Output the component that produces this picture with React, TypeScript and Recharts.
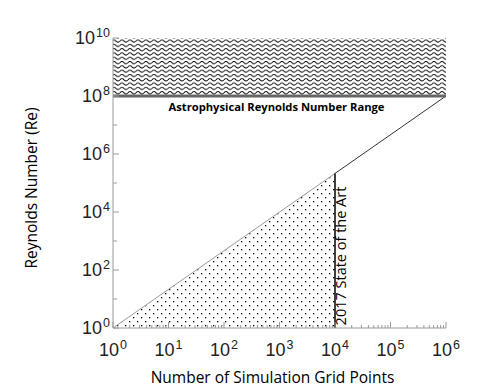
import {
  Area,
  ComposedChart,
  Label,
  Line,
  ReferenceArea,
  ReferenceLine,
  XAxis,
  YAxis,
} from "recharts";

// log10 of grid points / Reynolds number
const gridPoints = [0, 4, 6];
const reLower = [0, 5.33, null];
const reUpper = [null, 5.33, 8];
const stateOfArt = [0, 5.33, null];

const astroRange = [8, 10];
const stateOfArtX = 4;
const stateOfArtRe = 5.33;

const xMajor = [0, 1, 2, 3, 4, 5, 6];
const yMajor = [0, 2, 4, 6, 8, 10];
const yMinor = [1, 3, 5, 7, 9];
const minorSteps = [2, 3, 4, 5, 6, 7, 8, 9];

const xTicks = [
  ...xMajor,
  ...xMajor.slice(0, -1).flatMap((d) => minorSteps.map((k) => d + Math.log10(k))),
];
const yTicks = [...yMajor, ...yMinor];

const data = gridPoints.map((x, i) => ({
  x,
  lower: reLower[i],
  upper: reUpper[i],
  art: stateOfArt[i],
}));

const axisGrey = "#9a9a9a";
const tickFont = "'Liberation Sans', Arial, sans-serif";
const titleFont = "'Open Sans', sans-serif";

const isMajor = (v: number) => Math.abs(v - Math.round(v)) < 1e-6;

function PowerLabel({ x, y, exp, anchor }: { x: number; y: number; exp: number; anchor: string }) {
  return (
    <text x={x} y={y} textAnchor={anchor} fontFamily={tickFont} fontSize={18} fill="#222">
      <tspan>10</tspan>
      <tspan fontSize={12.5} dx={1} dy={-7}>
        {exp}
      </tspan>
    </text>
  );
}

function BottomTick(props: any) {
  const { x, y, payload } = props;
  const v = payload.value;
  const major = isMajor(v);
  return (
    <g>
      <line x1={x} x2={x} y1={y} y2={y - (major ? 6 : 3)} stroke={axisGrey} />
      {major && <PowerLabel x={x} y={y + 28} exp={Math.round(v)} anchor="middle" />}
    </g>
  );
}

function TopTick(props: any) {
  const { x, y, payload } = props;
  const major = isMajor(payload.value);
  return <line x1={x} x2={x} y1={y} y2={y + (major ? 6 : 3)} stroke={axisGrey} />;
}

function LeftTick(props: any) {
  const { x, y, payload } = props;
  const v = payload.value;
  const major = v % 2 === 0;
  return (
    <g>
      <line x1={x} x2={x + (major ? 6 : 4)} y1={y} y2={y} stroke={axisGrey} />
      {major && <PowerLabel x={x - 3} y={y + 6} exp={v} anchor="end" />}
    </g>
  );
}

function RightTick(props: any) {
  const { x, y, payload } = props;
  const major = payload.value % 2 === 0;
  return <line x1={x} x2={x - (major ? 6 : 4)} y1={y} y2={y} stroke={axisGrey} />;
}

export default function App() {
  return (
    <div style={{ position: "absolute", left: 0, top: 0, width: 492, height: 389, background: "#fff" }}>
      <ComposedChart
        width={492}
        height={389}
        data={data}
        margin={{ top: 38, right: 46, bottom: 0, left: 0 }}
      >
        <defs>
          <pattern id="waves" width={8} height={4.3} patternUnits="userSpaceOnUse">
            <path d="M0 2.4 Q2 0.2 4 2.4 T8 2.4" fill="none" stroke="#000" strokeWidth={1} />
          </pattern>
          <pattern id="dots" width={8} height={8} patternUnits="userSpaceOnUse">
            <rect x={1} y={1} width={1.3} height={1.3} fill="#000" />
            <rect x={5} y={5} width={1.3} height={1.3} fill="#000" />
          </pattern>
        </defs>
        <XAxis
          dataKey="x"
          type="number"
          domain={[0, 6]}
          ticks={xTicks}
          interval={0}
          height={61}
          tickSize={0}
          tickMargin={0}
          tickLine={false}
          axisLine={{ stroke: axisGrey }}
          tick={BottomTick}
        >
          <Label
            value="Number of Simulation Grid Points"
            position="insideBottom"
            offset={6}
            dx={-7}
            style={{ fontFamily: titleFont, fontSize: 15.5, fontWeight: 500, fill: "#000" }}
          />
        </XAxis>
        <XAxis
          xAxisId="top"
          orientation="top"
          dataKey="x"
          type="number"
          domain={[0, 6]}
          ticks={xTicks}
          interval={0}
          height={0}
          tickSize={0}
          tickMargin={0}
          tickLine={false}
          axisLine={{ stroke: axisGrey }}
          tick={TopTick}
        />
        <YAxis
          type="number"
          domain={[0, 10]}
          ticks={yTicks}
          interval={0}
          width={113}
          tickSize={0}
          tickMargin={0}
          tickLine={false}
          axisLine={{ stroke: axisGrey }}
          tick={LeftTick}
        >
          <Label
            content={({ viewBox }: any) => {
              const cx = viewBox.x + 37;
              const cy = viewBox.y + viewBox.height / 2 + 5;
              return (
                <text
                  x={cx}
                  y={cy}
                  textAnchor="middle"
                  transform={`rotate(-90 ${cx} ${cy})`}
                  fontFamily={titleFont}
                  fontSize={15.5}
                  fontWeight={500}
                  fill="#000"
                >
                  Reynolds Number (Re)
                </text>
              );
            }}
          />
        </YAxis>
        <YAxis
          yAxisId="right"
          orientation="right"
          type="number"
          domain={[0, 10]}
          ticks={yTicks}
          interval={0}
          width={0}
          tickSize={0}
          tickMargin={0}
          tickLine={false}
          axisLine={{ stroke: axisGrey }}
          tick={RightTick}
        />
        <ReferenceArea
          x1={0}
          x2={6}
          y1={astroRange[0]}
          y2={astroRange[1]}
          fill="url(#waves)"
          fillOpacity={1}
          stroke="none"
        />
        <Area
          dataKey="art"
          type="linear"
          baseValue={0}
          fill="url(#dots)"
          fillOpacity={1}
          stroke="none"
          isAnimationActive={false}
        />
        <Line
          dataKey="lower"
          type="linear"
          stroke="#9a9a9a"
          strokeWidth={1}
          dot={false}
          isAnimationActive={false}
        />
        <Line
          dataKey="upper"
          type="linear"
          stroke="#333"
          strokeWidth={1}
          dot={false}
          isAnimationActive={false}
        />
        <ReferenceLine
          segment={[
            { x: stateOfArtX, y: 0 },
            { x: stateOfArtX, y: stateOfArtRe },
          ]}
          stroke="#000"
          strokeWidth={1.5}
          label={({ viewBox }: any) => {
            const cx = viewBox.x + 11;
            const cy = 256;
            return (
              <text
                x={cx}
                y={cy}
                textAnchor="middle"
                transform={`rotate(-90 ${cx} ${cy})`}
                fontFamily={titleFont}
                fontSize={14.5}
                fontWeight={500}
                fill="#000"
              >
                2017 State of the Art
              </text>
            );
          }}
        />
        <ReferenceLine
          y={astroRange[0]}
          stroke="#666"
          strokeWidth={3}
          label={({ viewBox }: any) => (
            <text
              x={viewBox.x + viewBox.width / 2 - 3}
              y={viewBox.y + 15}
              textAnchor="middle"
              fontFamily={titleFont}
              fontWeight="bold"
              fontSize={11.2}
              fill="#000"
            >
              Astrophysical Reynolds Number Range
            </text>
          )}
        />
      </ComposedChart>
    </div>
  );
}
